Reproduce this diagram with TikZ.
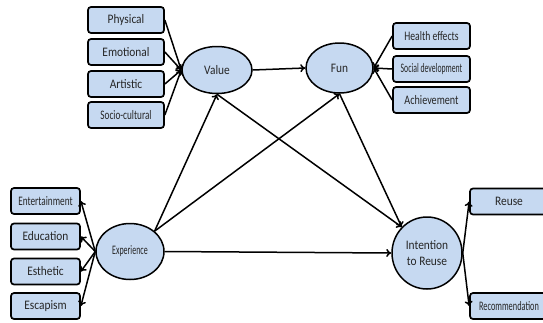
\documentclass[tikz,border=0pt]{standalone}
\usepackage{fontspec}
\setmainfont{Carlito}
\usepackage{graphicx}
\usetikzlibrary{shapes.geometric,arrows.meta}
\definecolor{boxfill}{HTML}{C6D9F1}
\newcommand\hsq[2]{\scalebox{#1}[1]{#2}}
\newcommand\nt[1]{\scalebox{0.877}[1]{#1}}
\tikzset{
  itembox/.style={draw=black, line width=1.7pt, rounded corners=3pt, fill=boxfill,
    minimum width=#1, minimum height=26pt, inner sep=0pt, font=\fontsize{13}{15}\selectfont, text=black!85},
  itembox/.default=76pt,
  construct/.style={ellipse, draw=black, line width=1.5pt, fill=boxfill, inner sep=0pt,
    font=\fontsize{13}{16}\selectfont, text=black!85, align=center},
  link/.style={line width=1.5pt, -{To[length=5pt,width=8pt]}}
}
\begin{document}
\begin{tikzpicture}[x=1pt,y=-1pt]
\useasboundingbox (0,0) rectangle (543,322);
\clip (0,0) rectangle (543,322);
% constructs
\node[construct, minimum width=70pt, minimum height=47pt] (value) at (217,70) {\nt{Value}};
\node[construct, minimum width=67pt, minimum height=50pt] (fun) at (339.5,68) {\nt{Fun}};
\node[construct, minimum width=68pt, minimum height=56pt] (exp) at (130,251.5) {\hsq{0.612}{Experience}};
\node[construct, minimum width=70pt, minimum height=72pt] (int) at (427,253) {\nt{Intention}\\\nt{to Reuse}};
% value items
\node[itembox] (phys) at (126,20) {\nt{Physical}};
\node[itembox] (emo) at (126,52) {\nt{Emotional}};
\node[itembox] (art) at (126,84) {\nt{Artistic}};
\node[itembox] (soc) at (126,115) {\hsq{0.71}{Socio-cultural}};
% fun items
\node[itembox=77pt] (health) at (431.5,36) {\hsq{0.743}{Health effects}};
\node[itembox=77pt] (social) at (431.5,69) {\hsq{0.596}{Social development}};
\node[itembox=77pt] (ach) at (431.5,100) {\hsq{0.78}{Achievement}};
% experience items
\node[itembox=69pt] (ent) at (45.5,201) {\hsq{0.71}{Entertainment}};
\node[itembox=69pt] (edu) at (45.5,236.5) {\nt{Education}};
\node[itembox=69pt] (est) at (45.5,271.5) {\nt{Esthetic}};
\node[itembox=69pt] (esc) at (45.5,306) {\nt{Escapism}};
% outcome items
\node[itembox=78pt] (reuse) at (509,201.5) {\nt{Reuse}};
\node[itembox=78pt] (rec) at (509,306) {\hsq{0.64}{Recommendation}};
% links
\foreach \b in {phys,emo,art,soc} \draw[link] (\b.east) -- (value.west);
\foreach \b in {health,social,ach} \draw[link] (\b.west) -- (fun.east);
\foreach \b in {ent,edu,est,esc} \draw[link] (exp.west) -- (\b.east);
\draw[link] (int.east) -- (reuse.west);
\draw[link] (int.east) -- (rec.west);
\draw[link] (value.east) -- (fun.west);
\draw[link] (exp.north east) -- (value.south);
\draw[link] (exp.north east) -- (fun.south);
\draw[link] (value.south) -- (int.north west);
\draw[link] (fun.south) -- (int.north west);
\draw[link] (exp.east) -- (int.west);
\end{tikzpicture}
\end{document}
